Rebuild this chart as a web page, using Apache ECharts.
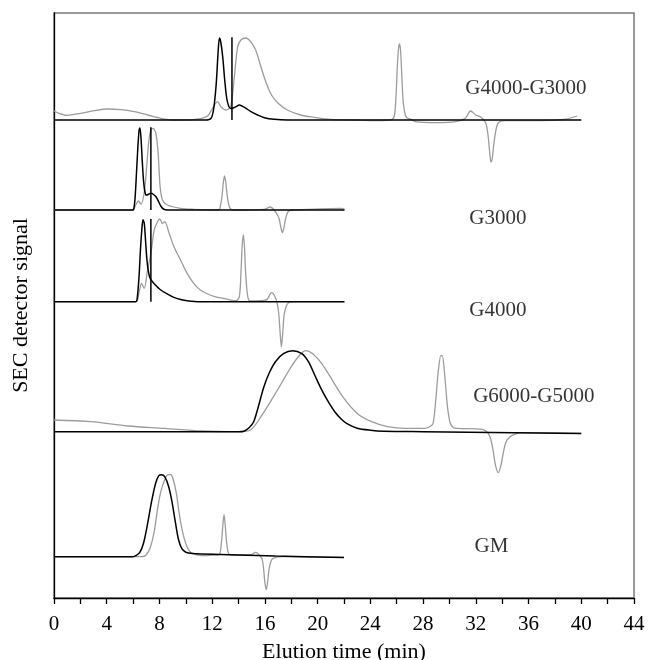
<!DOCTYPE html>
<html>
<head>
<meta charset="utf-8">
<script src="https://cdn.jsdelivr.net/npm/echarts@6/dist/echarts.min.js"></script>
<style>
  html, body { margin: 0; padding: 0; background: #fff; }
  #chart { width: 651px; height: 660px; }
</style>
</head>
<body>
<div id="chart"></div>
<script>
// elution time (min) vs signal above each trace's own baseline (arbitrary units)
const panelNames = ['G4000-G3000', 'G3000', 'G4000', 'G6000-G5000', 'GM']
const baselines = [478, 388, 296.3, 166.3, 41.3]
const labelPos = [[31.2, 32], [31.5, -8], [31.5, -9], [31.8, 35], [31.9, 10]]

const g4000g3000Black = [
  [0, 0], [11.5, 0], [11.9, 1.5], [12.1, 10], [12.3, 35], [12.45, 68], [12.55, 82], [12.65, 78],
  [12.8, 63], [12.95, 40], [13.1, 22], [13.25, 14], [13.4, 11.5], [13.6, 12], [13.8, 13.3],
  [14.06, 15], [14.44, 12.7], [14.94, 8.3], [15.45, 5], [15.96, 2.3], [16.7, 0.7], [17.7, 0], [40, 0]
]
const g4000g3000Grey = [
  [0, 9.3], [0.38, 6.7], [1.0, 4.7], [2.03, 6.7], [3.04, 9.3], [4.05, 11], [5.07, 10.3], [6.08, 8.3],
  [7.1, 5], [8.1, 1.7], [9.1, 0], [10.5, 0.3], [11.1, 1.3], [11.65, 4], [12.03, 11.7], [12.4, 18.3],
  [12.66, 13.3], [13.04, 10], [13.4, 13.3], [13.68, 43], [13.93, 73], [14.18, 80], [14.56, 82],
  [14.94, 78], [15.3, 70], [15.7, 53], [16.1, 37], [16.5, 25], [17.0, 16.7], [17.7, 10], [18.7, 5],
  [19.76, 2.7], [21, 0.7], [22.8, 0], [24, -0.5], [25.5, 0], [25.8, 3], [25.95, 25], [26.05, 55],
  [26.15, 73], [26.22, 76], [26.3, 68], [26.4, 40], [26.5, 17], [26.65, 5], [26.8, 2], [27.1, 0.7],
  [27.4, -1.7], [29, -2.7], [30.5, -1.7], [31.2, 1.7], [31.6, 9], [32, 5], [32.4, 2.7], [32.76, -3.3],
  [32.95, -18], [33.05, -32], [33.15, -42], [33.25, -38], [33.35, -26], [33.5, -12], [33.7, -3],
  [34.2, -0.7], [36.85, -0.7], [38.7, 0.7], [39.7, 4]
]
const g3000Black = [
  [0, 0], [5.95, 0], [6.05, 1], [6.15, 12], [6.25, 35], [6.35, 60], [6.45, 79], [6.52, 82], [6.6, 72],
  [6.7, 48], [6.8, 28], [6.9, 18], [7.0, 15], [7.15, 15.5], [7.35, 16.7], [7.55, 15.5], [7.75, 13],
  [7.95, 8], [8.1, 4], [8.3, 1], [8.6, 0], [22.04, 0]
]
const g3000Grey = [
  [0, 0], [5.95, 0], [6.2, 5], [6.4, 9], [6.6, 6], [6.85, 18], [7.05, 46.7], [7.2, 70], [7.35, 80],
  [7.52, 81.7], [7.73, 76.7], [7.9, 56.7], [8.05, 23.3], [8.23, 10], [8.6, 5], [9.6, 1.7], [10.6, 0.7],
  [12.5, 0], [12.62, 4], [12.74, 13.3], [12.85, 28], [12.94, 34], [13.03, 28], [13.15, 13.3],
  [13.35, 1.7], [13.7, 0], [15.96, 0.7], [16.4, 3], [16.7, 0], [17.0, -6], [17.1, -10], [17.22, -18],
  [17.33, -22.7], [17.44, -18], [17.55, -10], [17.7, -3], [17.86, -0.7], [18.2, 0], [21.8, 1.7], [22.04, 0.7]
]
const g4000Black = [
  [0, 0], [6.2, 0], [6.3, 2], [6.45, 25], [6.55, 50], [6.65, 70], [6.75, 82], [6.85, 78], [6.95, 60],
  [7.05, 42], [7.15, 31], [7.25, 25], [7.35, 22], [7.6, 18], [8.1, 11.7], [8.6, 7.7], [9.1, 4.3],
  [9.6, 2.3], [10.1, 1], [11.1, 0], [22.04, 0]
]
const g4000Grey = [
  [0, 0], [6.2, 0], [6.46, 10], [6.64, 18.3], [6.84, 13.3], [7.1, 31.7], [7.35, 48.3], [7.6, 71.7],
  [7.85, 80], [8.03, 82.7], [8.23, 78.3], [8.4, 80], [8.74, 68.3], [9.1, 55], [9.6, 41.7], [10.1, 28.3],
  [10.6, 18.3], [11.1, 11.7], [11.65, 7.7], [12.2, 5], [13.2, 2.3], [13.8, 1], [14.06, 5], [14.18, 28.3],
  [14.27, 55], [14.36, 66.7], [14.45, 55], [14.54, 28.3], [14.7, 5], [14.9, 0.7], [16.1, 1.7],
  [16.5, 9], [16.77, 5], [16.95, -3], [17.05, -12], [17.15, -30], [17.25, -45], [17.35, -32],
  [17.45, -14], [17.6, -5], [17.8, -1], [18.2, 0], [22, 0]
]
const g6000g5000Black = [
  [0, 0], [14.0, 0], [14.4, 0.5], [14.8, 4], [15.15, 10], [15.5, 25], [15.9, 44], [16.3, 58],
  [16.8, 70], [17.4, 78], [18.1, 81], [18.8, 78], [19.3, 70], [19.8, 56], [20.3, 42], [20.8, 30],
  [21.3, 20], [21.8, 12.5], [22.3, 7.5], [23.0, 3.5], [24, 1.5], [25, 0.5], [28, 0], [40, -1.7]
]
const g6000g5000Grey = [
  [0, 11.7], [2.8, 10], [5.6, 5.7], [8.4, 3.3], [11.2, 0.7], [14.0, 0], [14.9, 1.7], [15.7, 15],
  [16.8, 38.3], [18.0, 65], [18.6, 76], [19.1, 81], [19.6, 78.3], [20.2, 70], [20.8, 58.3], [21.9, 35],
  [23.0, 18.3], [24.1, 10], [25.3, 5], [26.7, 3.3], [28.1, 3.3], [28.5, 5], [28.75, 8], [28.95, 30],
  [29.15, 60], [29.35, 76], [29.45, 76], [29.65, 55], [29.85, 25], [30.05, 9], [30.3, 4], [30.6, 3.3],
  [32.5, 2.3], [32.9, -1], [33.1, -6], [33.3, -18], [33.5, -34], [33.7, -41], [33.9, -34], [34.1, -20],
  [34.3, -10], [34.6, -5], [35, -2.5], [35.5, -1], [36.5, -1], [40, -1.7]
]
const gmBlack = [
  [0, 0], [6.0, 0], [6.2, 1], [6.5, 4], [6.8, 14], [7.1, 33], [7.4, 55], [7.7, 73], [7.95, 81],
  [8.15, 82], [8.4, 80], [8.7, 70], [8.95, 55], [9.2, 35], [9.45, 17], [9.7, 8], [10.0, 4.5],
  [10.5, 3.3], [12.6, 2.3], [16.8, 0.7], [22.0, -0.7]
]
const gmGrey = [
  [0, 0], [6.7, 0], [7.0, 2], [7.3, 9], [7.6, 25], [7.85, 47], [8.1, 65], [8.4, 77], [8.65, 82],
  [8.85, 82], [9.05, 77], [9.3, 62], [9.5, 43], [9.75, 25], [10.0, 13], [10.25, 6], [10.5, 3.3],
  [11.2, 1], [12.35, 1.7], [12.55, 2], [12.7, 14], [12.82, 33], [12.9, 42], [12.98, 33], [13.1, 14],
  [13.25, 3], [13.5, 1.7], [14.9, 1.7], [15.3, 4.3], [15.65, 0.5], [15.8, -3], [15.9, -12], [16.0, -26],
  [16.1, -33], [16.2, -26], [16.3, -14], [16.45, -5], [16.65, -1.5], [17.4, 0], [22, -0.7]
]
// vertical marker lines (time, height) for the first three panels
const markerTimes = [13.5, 7.35, 7.35]
const markerHeight = 82.7

const blackTraces = [g4000g3000Black, g3000Black, g4000Black, g6000g5000Black, gmBlack]
const greyTraces = [g4000g3000Grey, g3000Grey, g4000Grey, g6000g5000Grey, gmGrey]

const serif = '"Liberation Serif", "Times New Roman", serif'

function shift(trace, base) {
  return trace.map(function(p) { return [p[0], base + p[1]] })
}

const series = []
for (let i = 0; i < panelNames.length; i++) {
  series.push({
    type: 'line',
    data: shift(greyTraces[i], baselines[i]),
    showSymbol: false,
    smooth: 0.3,
    lineStyle: { color: '#9c9c9c', width: 1.3 },
    z: 2
  })
}
for (let i = 0; i < panelNames.length; i++) {
  series.push({
    type: 'line',
    data: shift(blackTraces[i], baselines[i]),
    showSymbol: false,
    smooth: 0.3,
    lineStyle: { color: '#000', width: 1.5 },
    z: 3
  })
}
for (let i = 0; i < markerTimes.length; i++) {
  series.push({
    type: 'line',
    data: [[markerTimes[i], baselines[i]], [markerTimes[i], baselines[i] + markerHeight]],
    showSymbol: false,
    lineStyle: { color: '#000', width: 1.5 },
    z: 4
  })
}
series.push({
  type: 'scatter',
  symbolSize: 0,
  data: panelNames.map(function(n, i) {
    return { name: n, value: [labelPos[i][0], baselines[i] + labelPos[i][1]] }
  }),
  label: {
    show: true,
    position: 'right',
    distance: 0,
    formatter: '{b}',
    color: '#000',
    fontFamily: serif,
    fontSize: 21
  },
  z: 5
})

const myChart = echarts.init(document.getElementById('chart'))
const option = {
  animation: false,
  grid: {
    left: 54, right: 17, top: 13, bottom: 62,
    outerBoundsMode: 'none',
    show: true, borderColor: '#7a7a7a', borderWidth: 1.5
  },
  xAxis: {
    type: 'value',
    min: 0,
    max: 44,
    interval: 2,
    name: 'Elution time (min)',
    nameLocation: 'middle',
    nameGap: 43,
    nameTextStyle: { color: '#000', fontFamily: serif, fontSize: 22 },
    axisLine: { lineStyle: { color: '#000', width: 1.3 } },
    axisTick: { length: 6, lineStyle: { color: '#000', width: 1.3 } },
    axisLabel: {
      color: '#000', fontFamily: serif, fontSize: 21, margin: 16,
      formatter: function(v) { return v % 4 === 0 ? String(v) : '' }
    },
    splitLine: { show: false }
  },
  yAxis: {
    type: 'value',
    min: 0,
    max: 585,
    name: 'SEC detector signal',
    nameLocation: 'middle',
    nameGap: 22,
    nameTextStyle: { color: '#000', fontFamily: serif, fontSize: 22 },
    axisLine: { show: true, lineStyle: { color: '#000', width: 1.3 } },
    axisTick: { show: false },
    axisLabel: { show: false },
    splitLine: { show: false }
  },
  series: series
}
myChart.setOption(option)
</script>
</body>
</html>
